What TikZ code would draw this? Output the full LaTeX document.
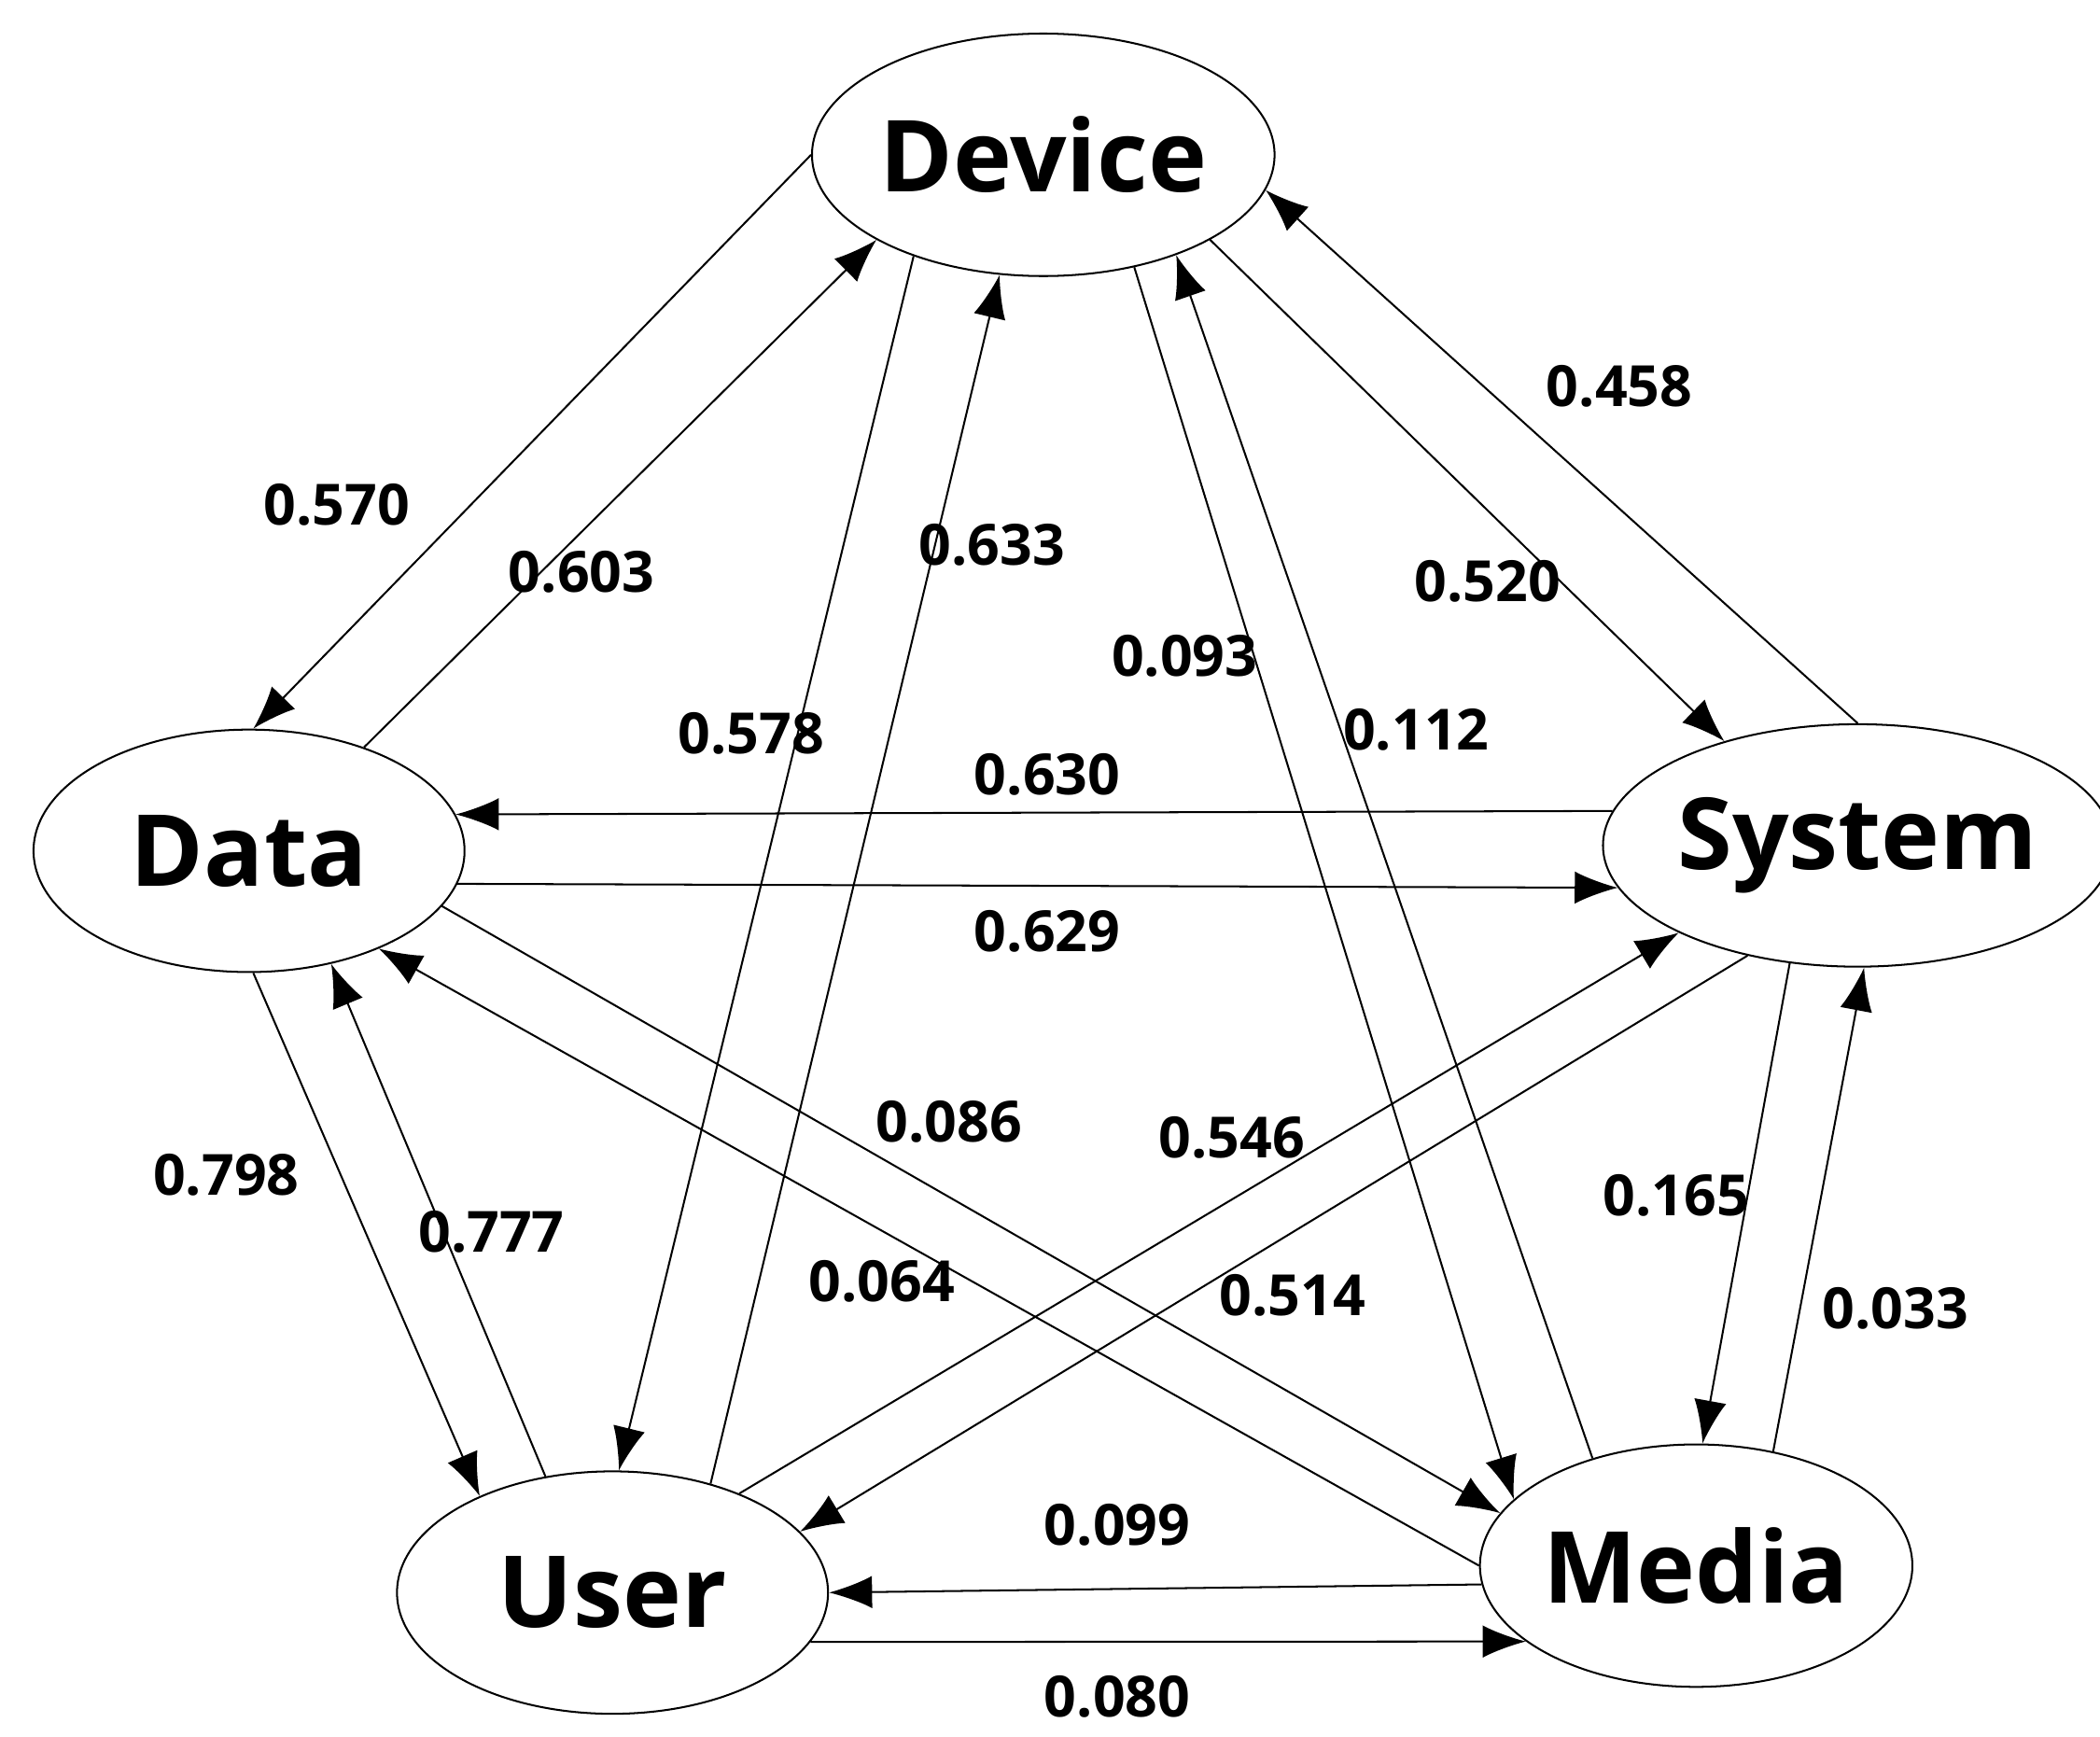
\documentclass[tikz,border=0pt]{standalone}
\usepackage{fontspec}
\setmainfont{Open Sans}
\usetikzlibrary{shapes.geometric}
\usetikzlibrary{arrows.meta}
\begin{document}
\begin{tikzpicture}[x=0.01cm, y=-0.01cm,
		ent/.style={ellipse, draw, minimum width=32mm, minimum height=18mm, inner sep=0pt, font=\bfseries\fontsize{21}{21}\selectfont},
		wt/.style={font=\bfseries\fontsize{12}{12}\selectfont, inner sep=1pt},
		>={Latex[length=3.2mm,width=2.4mm]}
		]
		\useasboundingbox (0,0) rectangle (1560,1290);
		\node[ent] (dev) at (775, 115) {Device};
		\node[ent] (dat) at (185, 632) {Data};
		\node[ent] (sys) at (1380, 628) {System};
		\node[ent] (usr) at (455, 1183) {User};
		\node[ent] (med) at (1260, 1163) {Media};
		% Device
		\draw[->] (dev.180) to (dat.88);
		\draw[->] (dat.42) to (dev.207);
		\draw[->] (dev.218) to (usr.87);
		\draw[->] (usr.48) to (dev.250);
		\draw[->] (dev.309) to (med.160);
		\draw[->] (med.134) to (dev.323);
		\draw[->] (dev.333) to (sys.142);
		\draw[->] (sys.90) to (dev.351);
		% Data
		\draw[->] (sys.172) to (dat.10);
		\draw[->] (dat.-9) to (sys.190);
		\draw[->] (dat.-88) to (usr.144);
		\draw[->] (usr.120) to (dat.-54);
		\draw[->] (dat.-16) to (med.165);
		\draw[->] (med.180) to (dat.-37);
		% System
		\draw[->] (usr.38) to (sys.206);
		\draw[->] (sys.225) to (usr.18);
		\draw[->] (sys.240) to (med.87);
		\draw[->] (med.56) to (sys.273);
		% Media
		\draw[->] (med.185) to (usr.0);
		\draw[->] (usr.-14) to (med.204);
		
		\node[wt] (w1) at (250, 375) {0.570};
		\node[wt] (w2) at (432, 425) {0.603};
		\node[wt] (w3) at (737, 405) {0.633};
		\node[wt] (w4) at (558, 545) {0.578};
		\node[wt] (w5) at (880, 487) {0.093};
		\node[wt] (w6) at (1052, 542) {0.112};
		\node[wt] (w7) at (1105, 432) {0.520};
		\node[wt] (w8) at (1203, 287) {0.458};
		\node[wt] (w9) at (778, 575) {0.630};
		\node[wt] (w10) at (778, 692) {0.629};
		\node[wt] (w11) at (168, 873) {0.798};
		\node[wt] (w12) at (365, 915) {0.777};
		\node[wt] (w13) at (705, 833) {0.086};
		\node[wt] (w14) at (655, 952) {0.064};
		\node[wt] (w15) at (915, 845) {0.546};
		\node[wt] (w16) at (960, 962) {0.514};
		\node[wt] (w17) at (1245, 888) {0.165};
		\node[wt] (w18) at (1408, 972) {0.033};
		\node[wt] (w19) at (830, 1133) {0.099};
		\node[wt] (w20) at (830, 1260) {0.080};
		
		\end{tikzpicture}
\end{document}
